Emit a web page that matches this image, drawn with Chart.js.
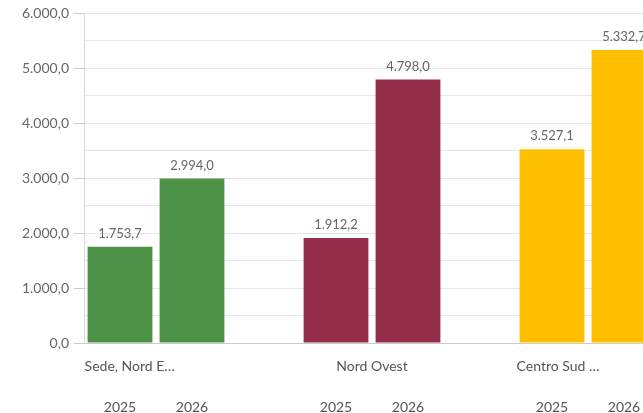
<!DOCTYPE html>
<html>
<head>
<meta charset="utf-8">
<script src="https://cdn.jsdelivr.net/npm/chart.js@4.4.1/dist/chart.umd.min.js"></script>
<style>
  html, body { margin: 0; padding: 0; background: #ffffff; overflow: hidden; width: 643px; height: 413px; }
  #wrap { position: relative; width: 744px; height: 413px; }
</style>
</head>
<body>
<div id="wrap"><canvas id="c"></canvas></div>
<script>
const categories = ['Sede, Nord E…', 'Nord Ovest', 'Centro Sud …'];
const years = ['2025', '2026'];
const values2025 = [1753.7, 1912.2, 3527.1];
const values2026 = [2994.0, 4798.0, 5332.7];
const categoryColors = ['#4e9247', '#952e4a', '#ffbf00'];
const yMin = 0, yMax = 6000, yStep = 500, yLabelStep = 1000;

function fmt(v) {
  const parts = v.toFixed(1).split('.');
  return parts[0].replace(/\B(?=(\d{3})+(?!\d))/g, '.') + ',' + parts[1];
}

const yearLabels = categories.flatMap(() => [...years, '']);
const FONT = 'Lato, "Noto Sans", sans-serif';

const labelPlugin = {
  id: 'labels',
  afterDatasetsDraw(chart) {
    const ctx = chart.ctx;
    ctx.save();
    ctx.font = '13px ' + FONT;
    ctx.fillStyle = '#666666';
    ctx.textAlign = 'center';
    ctx.textBaseline = 'middle';
    [0, 1].forEach(di => {
      const meta = chart.getDatasetMeta(di);
      meta.data.forEach((bar, i) => {
        const v = chart.data.datasets[di].data[i];
        if (v == null) return;
        ctx.fillText(fmt(v), bar.x, bar.y - 13);
      });
    });
    // category labels
    const m0 = chart.getDatasetMeta(0), m1 = chart.getDatasetMeta(1);
    const y = chart.scales.x.top + 23;
    ctx.font = '14px ' + FONT;
    ctx.fillStyle = '#555555';
    categories.forEach((c, i) => {
      const b0 = m0.data[i], b1 = m1.data[i];
      const left = b0.x - b0.width / 2;
      if (c.endsWith('…')) {
        ctx.textAlign = 'left';
        ctx.fillText(c, left - 3, y);
      } else {
        ctx.textAlign = 'center';
        ctx.fillText(c, (b0.x + b1.x) / 2, y);
      }
    });
    ctx.restore();
  }
};

new Chart(document.getElementById('c'), {
  type: 'bar',
  data: {
    labels: categories,
    datasets: [
      { label: years[0], data: values2025, backgroundColor: categoryColors, xAxisID: 'x' },
      { label: years[1], data: values2026, backgroundColor: categoryColors, xAxisID: 'x' },
      { label: '', data: categories.map(() => null), backgroundColor: categoryColors, xAxisID: 'x' }
    ]
  },
  options: {
    responsive: true,
    maintainAspectRatio: false,
    animation: false,
    layout: { padding: { top: 13, right: 12, left: 0, bottom: 0 } },
    plugins: { legend: { display: false }, tooltip: { enabled: false } },
    datasets: { bar: { categoryPercentage: 1.0, barPercentage: 0.9 } },
    scales: {
      x: {
        type: 'category',
        position: 'bottom',
        offset: true,
        grid: { display: false, drawTicks: false },
        border: { display: false },
        ticks: { display: false },
        afterFit: s => { s.height = 40; }
      },
      x2: {
        type: 'category',
        position: 'bottom',
        labels: yearLabels,
        offset: true,
        grid: { display: false, drawTicks: false },
        border: { display: false },
        ticks: { color: '#555555', font: { family: FONT, size: 14 }, padding: 16, autoSkip: false, maxRotation: 0 },
        afterFit: s => { s.height = 30; }
      },
      y: {
        min: yMin,
        max: yMax,
        grid: {
          color: c => (c.tick && c.tick.value === 0) ? '#cccccc' : '#e6e6e6',
          tickColor: c => (c.tick && c.tick.value % yLabelStep === 0) ? '#cccccc' : 'rgba(0,0,0,0)',
          tickLength: 10
        },
        border: { display: true, color: '#d9d9d9' },
        ticks: {
          stepSize: yStep,
          padding: 5,
          color: '#666666',
          font: { family: FONT, size: 14 },
          callback: v => (v % yLabelStep === 0 ? fmt(v) : '')
        },
        afterFit: s => { s.width = 84; }
      }
    }
  },
  plugins: [labelPlugin]
});
</script>
</body>
</html>
